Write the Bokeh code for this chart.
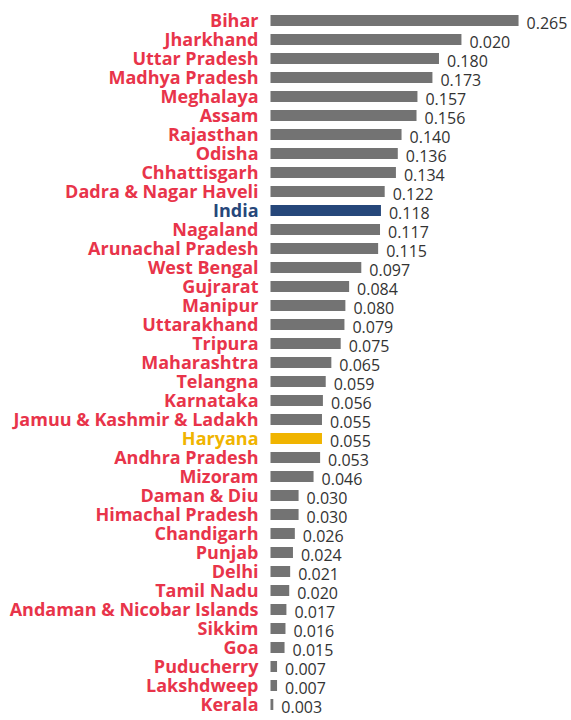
from bokeh.plotting import figure
from bokeh.models import ColumnDataSource, Range1d
from bokeh.core.properties import value
from bokeh.embed import file_html
from bokeh.resources import INLINE

states = ["Bihar", "Jharkhand", "Uttar Pradesh", "Madhya Pradesh", "Meghalaya", "Assam",
          "Rajasthan", "Odisha", "Chhattisgarh", "Dadra & Nagar Haveli", "India", "Nagaland",
          "Arunachal Pradesh", "West Bengal", "Gujrarat", "Manipur", "Uttarakhand", "Tripura",
          "Maharashtra", "Telangna", "Karnataka", "Jamuu & Kashmir & Ladakh", "Haryana",
          "Andhra Pradesh", "Mizoram", "Daman & Diu", "Himachal Pradesh", "Chandigarh",
          "Punjab", "Delhi", "Tamil Nadu", "Andaman & Nicobar Islands", "Sikkim", "Goa",
          "Puducherry", "Lakshdweep", "Kerala"]
bar_values = [0.265, 0.204, 0.180, 0.173, 0.157, 0.156, 0.140, 0.136, 0.134, 0.122, 0.118,
              0.117, 0.115, 0.097, 0.084, 0.080, 0.079, 0.075, 0.065, 0.059, 0.056, 0.055,
              0.055, 0.053, 0.046, 0.030, 0.030, 0.026, 0.024, 0.021, 0.020, 0.017, 0.016,
              0.015, 0.007, 0.007, 0.003]
value_labels = ["0.265", "0.020", "0.180", "0.173", "0.157", "0.156", "0.140", "0.136",
                "0.134", "0.122", "0.118", "0.117", "0.115", "0.097", "0.084", "0.080",
                "0.079", "0.075", "0.065", "0.059", "0.056", "0.055", "0.055", "0.053",
                "0.046", "0.030", "0.030", "0.026", "0.024", "0.021", "0.020", "0.017",
                "0.016", "0.015", "0.007", "0.007", "0.003"]

GRAY = "#737373"
RED = "#E8344A"
BLUE = "#26477A"
GOLD = "#F0B400"

bar_colors = []
label_colors = []
for s in states:
    if s == "India":
        bar_colors.append(BLUE); label_colors.append(BLUE)
    elif s == "Haryana":
        bar_colors.append(GOLD); label_colors.append(GOLD)
    else:
        bar_colors.append(GRAY); label_colors.append(RED)

idx = list(range(len(states)))
src = ColumnDataSource(dict(y=idx, v=bar_values, name=states, lab=value_labels,
                            bc=bar_colors, lc=label_colors, zero=[0] * len(states)))

W, H = 571, 720
ppu = 936.0
x0px = 270.0
row = 19.0
top_px = 20.0
x_start = -x0px / ppu
x_end = x_start + W / ppu
y_top = -top_px / row
y_bottom = y_top + H / row

p = figure(width=W, height=H, output_backend="svg", toolbar_location=None,
           x_range=Range1d(x_start, x_end), y_range=Range1d(y_bottom, y_top),
           min_border=0, outline_line_color=None)
p.axis.visible = False
p.grid.visible = False
p.background_fill_color = "white"

p.hbar(y="y", left=0, right="v", height=0.58, color="bc", line_color=None, source=src)
p.text(x="zero", y="y", text="name", text_color="lc", text_align="right",
       text_baseline="middle", x_offset=-12, y_offset=-1, text_font=value("Open Sans"),
       text_font_style="bold", text_font_size="18px", source=src)
p.text(x="v", y="y", text="lab", text_color="#333333", text_align="left",
       text_baseline="middle", x_offset=8, y_offset=2, text_font=value("Open Sans"),
       text_font_size="16px", source=src)

open("out.html", "w").write(file_html(p, INLINE))
